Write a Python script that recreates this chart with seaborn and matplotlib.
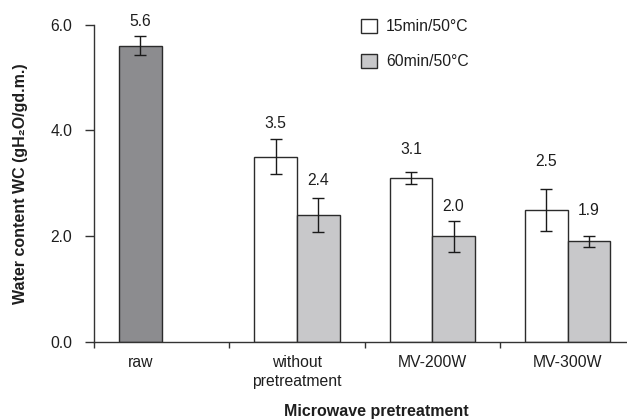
import matplotlib
matplotlib.use("Agg")
import matplotlib.pyplot as plt
import seaborn as sns
import pandas as pd
from matplotlib.patches import Patch
from matplotlib.container import BarContainer

# ---- data ----
categories = ["raw", "without\npretreatment", "MV-200W", "MV-300W"]
series = ["15min/50°C", "60min/50°C"]
raw_value = 5.6
raw_error = 0.18
values_15 = [3.5, 3.1, 2.5]
errors_15 = [0.33, 0.12, 0.40]
values_60 = [2.4, 2.0, 1.9]
errors_60 = [0.33, 0.29, 0.10]
value_labels_15 = ["5.6", "3.5", "3.1", "2.5"]
value_labels_60 = ["2.4", "2.0", "1.9"]
y_ticks = [0.0, 2.0, 4.0, 6.0]

# ---- styling / layout ----
col_raw = "#8c8c8f"
col_15 = "#ffffff"
col_60 = "#c8c8ca"
edge = "#2b2b2b"
txt = "#1e1e1e"
label_gap_15 = [15, 15.5, 22, 27]   # px between error-bar top and label centre
label_gap_60 = [17, 14, 26]

sns.set_theme(style="white")
plt.rcParams["font.family"] = ["Liberation Sans", "DejaVu Sans"]
plt.rcParams["font.size"] = 11

rows = [(categories[0], series[0], raw_value, raw_error)]
for c, v, e in zip(categories[1:], values_15, errors_15):
    rows.append((c, series[0], v, e))
for c, v, e in zip(categories[1:], values_60, errors_60):
    rows.append((c, series[1], v, e))
df = pd.DataFrame(rows, columns=["category", "series", "value", "err"])

fig = plt.figure(figsize=(6.27, 4.19), dpi=100)
ax = fig.add_axes([94 / 627, 1 - 342 / 419, 541.2 / 627, (342 - 24.5) / 419])

sns.barplot(data=df, x="category", y="value", hue="series",
            order=categories, hue_order=series, width=0.63,
            palette=[col_15, col_60], edgecolor=edge, linewidth=1.0,
            errorbar=None, legend=False, ax=ax, saturation=1)

px2pt = 0.72
label_lists = [value_labels_15, value_labels_60]
gap_lists = [label_gap_15, label_gap_60]
raw_center = None
bar_conts = [c for c in ax.containers if isinstance(c, BarContainer)]
for hi, cont in enumerate(bar_conts):
    sub = df[df["series"] == series[hi]].copy()
    sub["order"] = sub["category"].map({c: i for i, c in enumerate(categories)})
    sub = sub.sort_values("order").reset_index(drop=True)
    for j, patch in enumerate(cont.patches):
        xc = patch.get_x() + patch.get_width() / 2
        h = patch.get_height()
        e = sub.loc[j, "err"]
        if hi == 0 and sub.loc[j, "category"] == categories[0]:
            patch.set_facecolor(col_raw)
            raw_center = xc
        ax.errorbar(xc, h, yerr=e, fmt="none", ecolor="#1a1a1a",
                    elinewidth=1.0, capsize=4.6, capthick=1.0, zorder=5)
        ax.annotate(label_lists[hi][j], (xc, h + e),
                    xytext=(0, gap_lists[hi][j] * px2pt), textcoords="offset points",
                    ha="center", va="center", fontsize=11.3, color=txt)

# axes
ax.set_ylim(0, 6)
ax.set_xlim(-0.5, len(categories) - 0.5)
ax.set_yticks(y_ticks)
ax.set_yticklabels([f"{t:.1f}" for t in y_ticks], color=txt, fontsize=11.3)
ax.tick_params(axis="y", direction="out", length=6.5, width=1.0, color="#333333", pad=9, left=True)

bounds = [i - 0.5 for i in range(len(categories))]
ax.set_xticks(bounds)
ax.set_xticklabels([""] * len(bounds))
ax.tick_params(axis="x", which="major", direction="out", length=4.5, width=1.0, color="#333333", bottom=True)
label_pos = [raw_center] + list(range(1, len(categories)))
ax.set_xticks(label_pos, minor=True)
ax.set_xticklabels(categories, minor=True, fontsize=11.3, color=txt, linespacing=1.35)
ax.tick_params(axis="x", which="minor", length=0, pad=9.5)

for s in ["top", "right"]:
    ax.spines[s].set_visible(False)
for s in ["left", "bottom"]:
    ax.spines[s].set_color("#333333")
    ax.spines[s].set_linewidth(1.0)

ax.set_xlabel("")
ax.set_ylabel("Water content WC (gH₂O/gd.m.)", fontsize=11.5, fontweight="bold", color=txt)
ax.yaxis.set_label_coords(-(94 - 28.5) / 541.2, 0.5)
fig.text(376 / 627, 1 - 411 / 419, "Microwave pretreatment", ha="center", va="center",
         fontsize=11.5, fontweight="bold", color=txt)

handles = [Patch(facecolor=col_15, edgecolor=edge, linewidth=1.0, label=series[0]),
           Patch(facecolor=col_60, edgecolor=edge, linewidth=1.0, label=series[1])]
fig.legend(handles=handles, loc="upper left", bbox_to_anchor=(361 / 627, 1 - 19 / 419),
           frameon=False, fontsize=11.3, handlelength=1.0, handleheight=1.0,
           handletextpad=0.6, labelspacing=1.25, borderpad=0, borderaxespad=0,
           labelcolor=txt)

fig.savefig("out.png", dpi=100)
